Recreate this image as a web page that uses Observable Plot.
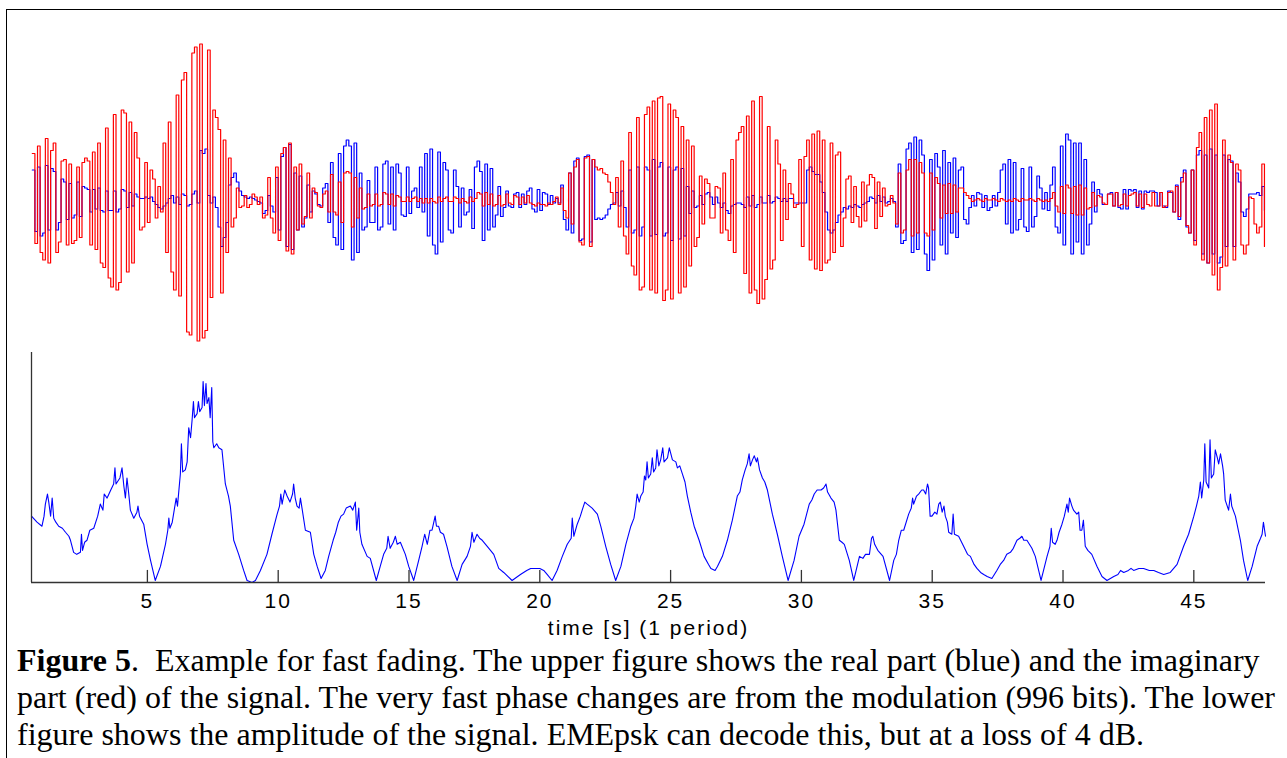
<!DOCTYPE html>
<html>
<head>
<meta charset="utf-8">
<script src="https://cdn.jsdelivr.net/npm/d3@7"></script>
<script src="https://cdn.jsdelivr.net/npm/@observablehq/plot@0.6"></script>
<style>
  body { margin: 0; background: #fff; }
  #wrap { position: relative; width: 1287px; height: 758px; overflow: hidden; background: #fff; }
  #upper, #lower { position: absolute; left: 0; }
  #upper { top: 0; }
  #lower { top: 340px; }
  .fr { position: absolute; background: #000; }
  .capline {
    position: absolute; left: 17px; height: 37px; line-height: 37px;
    font-family: "Liberation Serif", "Times New Roman", Times, serif;
    font-size: 25px; color: #000; white-space: pre;
  }
</style>
</head>
<body>
<div id="wrap">
  <div id="upper"></div>
  <div id="lower"></div>
  <div id="caption"></div>
  <div class="fr" style="left:6px;top:9px;width:1281px;height:1px"></div>
  <div class="fr" style="left:6px;top:9px;width:1px;height:749px"></div>
</div>
<script>
// ---------- data (upper panel: sampled signal, hundredths of amplitude unit) ----------
const sampleStart = 0.6;   // s
const sampleStep = 0.1;    // s
// real part (blue), one row per second
const realPart = [
  20,-21,22,-24,-22,23,-20,21,19,-20,
  -15,14,12,-13,11,-12,-10,12,-11,9,
  8,7,-8,7,-6,8,-7,-8,6,-7,
  -7,6,-8,-6,7,6,-5,5,-4,4,
  2,1,1,2,1,2,-1,-3,-5,-6,
  -4,-2,1,3,-2,2,-3,4,3,-4,
  -3,4,6,-2,33,31,34,3,-2,2,
  -5,-18,-31,-25,-15,10,15,18,12,6,
  3,2,1,2,1,0,-1,-2,-9,-7,
  3,-4,-8,15,-20,29,35,-31,37,-33,
  18,-20,16,-18,-12,10,-8,6,4,-3,
  -4,8,11,-15,25,-25,-30,31,-33,36,
  40,36,-40,38,-35,18,-20,-18,13,-15,
  -15,22,-20,-18,24,26,-16,22,-20,24,
  18,-10,-11,22,-9,6,8,-5,22,-8,
  31,-24,34,-30,-36,32,-28,25,20,-20,
  -22,20,9,-18,8,-10,-8,7,-19,22,
  26,19,-27,24,-20,21,-18,-10,9,-11,
  -5,6,-4,-5,4,5,-5,4,-3,6,
  8,-6,-8,7,-7,5,4,-3,3,-2,
  1,-2,10,-13,-20,18,-22,26,28,-27,
  -26,29,30,-28,27,-13,-12,-13,-12,-10,
  -6,-3,-2,5,-4,6,-5,-18,20,-22,
  -20,22,-24,-18,22,20,-24,27,-23,22,
  25,-24,-22,22,-27,20,22,-26,21,-24,
  9,-9,6,-5,-4,3,-3,4,5,2,
  -3,2,-2,-5,-2,-7,-9,-4,-3,-2,
  -2,-3,-5,2,-4,3,-5,-3,2,-2,
  -2,3,-2,-1,2,1,-1,1,-1,1,
  1,-2,-2,-2,-2,-2,20,22,19,17,
  17,12,5,-8,-20,-22,-20,-15,-10,-8,
  -5,-6,-4,-5,-3,-4,-5,-3,-2,-1,
  2,1,-2,3,-1,2,-2,-1,1,-1,
  -18,24,-29,-27,34,38,-35,42,-33,40,
  30,-36,-47,27,-40,31,22,-30,33,-36,
  25,-22,28,-25,20,22,-13,-16,-5,3,
  -4,5,4,-5,3,-7,-5,3,-4,5,
  20,24,-16,27,-22,25,-20,-13,21,-18,
  -21,22,-18,-11,16,8,-6,5,-7,10,
  22,-18,-22,36,-30,44,40,-36,38,-28,
  38,-36,27,-30,-16,12,-8,7,4,-3,
  -3,4,5,-4,5,-5,-6,7,-6,7,
  6,7,-5,6,-6,6,5,6,6,5,
  -4,5,-4,-5,6,5,-8,10,-13,15,
  20,-18,-22,20,-27,30,33,-36,30,-42,
  34,-36,30,-42,-38,30,-31,27,26,-31,
  18,12,-8,-11,-6,4,4,4,5,3,
  9,-7
];
// imaginary part (red), one row per second
const imagPart = [
  31,-29,36,-35,-40,41,-42,33,38,-35,
  -28,26,27,-30,24,-29,-27,22,-25,25,
  28,26,-30,32,-33,38,-42,-45,48,-52,
  -58,57,-60,-55,60,58,-48,52,-42,45,
  28,-20,-18,25,-15,20,14,-12,9,-8,
  38,-35,52,-48,-60,70,-64,80,85,-88,
  -90,98,102,-94,104,-92,-87,100,-65,60,
  55,47,-62,40,-35,28,-18,-12,8,-5,
  -4,3,-5,-3,4,2,-3,2,-12,-10,
  15,-12,-22,22,-27,31,35,-34,38,-36,
  22,-20,24,-16,-11,18,-12,8,5,-4,
  -5,4,6,-8,17,-8,-10,12,-15,18,
  19,18,-18,15,-12,8,-6,-5,4,-4,
  -3,4,-4,-3,5,4,-3,4,-4,3,
  2,-1,-1,2,-1,1,2,-1,1,-2,
  1,-2,1,-1,-2,2,-1,1,2,-1,
  -1,2,1,-2,1,-1,-2,2,-1,1,
  5,4,-4,5,-3,4,-4,-3,3,-4,
  -3,4,-2,-3,3,2,-3,2,-2,3,
  -2,-3,-4,-2,-3,-3,-4,-2,-3,-1,
  2,-3,8,-7,-12,18,-16,22,27,-28,
  -30,28,29,-31,27,22,20,21,18,17,
  12,5,-3,15,-18,26,-24,-36,45,-44,
  -50,55,-60,-58,57,62,-60,66,-62,68,
  69,-67,-60,64,-66,60,55,-62,49,-58,
  40,-44,36,-31,-25,16,-16,14,11,-12,
  -12,9,8,-22,18,-20,-27,27,-35,40,
  45,49,-49,56,-62,66,-60,-69,69,-66,
  -53,49,-46,-40,40,24,-27,20,-13,11,
  4,-5,-3,27,-31,29,40,-40,44,-46,
  46,-47,40,-42,-40,38,-35,30,32,-31,
  -12,14,16,-15,9,-11,-18,12,-14,10,
  17,15,-19,12,-11,8,-4,-3,3,-2,
  -16,18,-22,-20,20,27,-24,27,-22,25,
  18,-22,-24,18,-20,15,11,-12,10,-9,
  11,-9,10,-8,8,8,5,3,1,-1,
  0,1,0,-1,1,0,0,1,0,-1,
  1,0,-1,0,-1,1,0,-1,1,0,
  0,1,0,-1,1,0,-1,0,-1,1,
  5,-4,-8,9,-9,10,8,-9,9,-10,
  10,-10,8,-6,-5,5,-4,3,2,-2,
  -3,4,4,-4,5,-4,-3,4,-4,3,
  4,5,-4,4,-5,4,-3,-4,5,-4,
  -4,5,-5,-4,5,6,-8,9,-11,12,
  18,-17,-22,20,-30,35,45,-40,55,-42,
  60,-50,64,-60,-45,40,-44,30,25,-40,
  24,20,-30,-36,-30,2,1,-16,-22,-18,
  24,-31
];

// ---------- data (lower panel: amplitude, hundredths) ----------
const ampTime = [
  0.57,0.78,0.97,1.05,1.1,1.18,1.23,1.3,1.36,1.42,1.5,1.61,1.75,1.87,2.0,2.06,2.18,2.3,2.44,2.48,2.52,2.6,2.69,2.8,2.95,
  3.1,3.2,3.3,3.35,3.46,3.6,3.71,3.76,3.8,3.95,4.03,4.1,4.16,4.22,4.28,4.35,4.48,4.6,4.64,4.7,4.86,4.99,5.12,5.3,5.5,
  5.69,5.78,5.82,5.86,5.95,6.0,6.1,6.15,6.26,6.3,6.35,6.45,6.52,6.58,6.65,6.71,6.76,6.8,6.9,6.95,7.0,7.09,7.13,7.18,7.24,
  7.28,7.35,7.4,7.46,7.5,7.54,7.65,7.73,7.85,7.98,8.1,8.17,8.3,8.49,8.68,8.81,9.0,9.13,9.32,9.57,9.76,9.9,9.96,10.05,10.1,
  10.15,10.25,10.34,10.45,10.55,10.59,10.65,10.72,10.8,10.85,10.91,11.04,11.23,11.36,11.49,11.64,11.8,11.93,12.1,12.2,12.3,12.4,12.5,12.6,12.76,
  12.85,12.95,13.0,13.08,13.12,13.2,13.4,13.52,13.75,13.9,14.03,14.15,14.2,14.28,14.4,14.48,14.55,14.67,14.86,14.99,15.18,15.37,15.5,15.6,15.7,
  15.8,15.88,16.0,16.05,16.13,16.2,16.32,16.45,16.64,16.84,17.03,17.22,17.35,17.41,17.48,17.6,17.7,17.8,17.99,18.24,18.43,18.62,18.94,19.26,19.5,
  19.65,19.83,20.0,20.15,20.28,20.47,20.66,20.86,21.05,21.2,21.24,21.3,21.43,21.55,21.62,21.72,21.81,22.0,22.2,22.33,22.52,22.71,22.9,23.1,23.29,
  23.48,23.6,23.67,23.72,23.8,23.86,23.95,24.0,24.05,24.1,24.15,24.24,24.3,24.35,24.43,24.48,24.55,24.62,24.7,24.75,24.88,24.95,25.07,25.2,25.26,
  25.35,25.45,25.55,25.64,25.77,25.9,26.09,26.28,26.45,26.54,26.7,26.79,26.98,27.17,27.36,27.55,27.65,27.74,27.85,27.93,28.0,28.05,28.13,28.2,28.28,
  28.32,28.4,28.51,28.6,28.7,28.89,29.08,29.27,29.49,29.72,29.91,30.1,30.2,30.3,30.4,30.49,30.6,30.75,30.85,30.94,31.0,31.13,31.25,31.32,31.45,
  31.55,31.64,31.83,32.0,32.22,32.35,32.45,32.6,32.68,32.73,32.8,32.92,33.12,33.37,33.53,33.63,33.72,33.82,33.91,34.1,34.2,34.25,34.29,34.4,34.48,
  34.6,34.67,34.75,34.82,34.86,34.92,34.99,35.1,35.18,35.25,35.31,35.38,35.45,35.5,35.58,35.63,35.75,35.8,35.85,36.01,36.2,36.35,36.46,36.6,36.71,
  36.85,36.97,37.1,37.28,37.47,37.6,37.73,37.85,37.99,38.1,38.24,38.35,38.43,38.5,38.62,38.81,38.94,39.05,39.16,39.39,39.5,39.55,39.6,39.7,39.77,
  39.85,39.96,40.05,40.15,40.2,40.25,40.34,40.4,40.53,40.6,40.65,40.72,40.78,40.85,40.95,41.1,41.3,41.49,41.68,41.94,42.1,42.2,42.32,42.5,42.6,
  42.7,42.9,43.08,43.3,43.47,43.65,43.85,44.1,44.36,44.61,44.8,45.0,45.1,45.19,45.25,45.3,45.38,45.42,45.47,45.57,45.62,45.67,45.76,45.82,45.9,
  45.95,46.02,46.1,46.14,46.2,46.33,46.4,46.45,46.59,46.78,46.9,47.06,47.23,47.42,47.55,47.61,47.66,47.74
];
const ampValue = [
  33,30,28,33,39,44,40,33,42,32,30,28,27,25,23,21,15,14,15,24,16,20,21,26,27,
  33,39,36,44,42,46,49,57,49,52,57,48,42,52,45,36,32,35,38,33,29,19,11,1,8,
  19,26,32,27,30,34,42,38,54,69,55,56,60,77,72,81,90,82,84,90,85,87,100,88,99,
  89,92,82,97,70,67,69,67,66,49,43,38,21,14,6,1,0,1,6,14,24,31,34,38,44,
  39,46,43,40,44,49,42,38,37,42,37,26,25,14,8,2,6,13,21,25,30,33,34,37,38,
  36,40,26,37,25,19,13,12,1,8,14,17,23,17,20,23,19,20,14,8,1,11,18,24,19,
  26,26,33,28,28,25,24,18,8,1,9,13,18,25,20,24,22,21,18,14,7,5,1,4,6,
  7,7,7,6,4,1,6,13,19,22,32,23,29,33,36,40,39,37,34,28,18,9,1,8,19,
  28,32,38,44,40,43,45,53,51,60,52,54,62,55,57,66,58,61,67,60,62,67,61,60,57,
  58,54,50,43,35,28,21,13,9,7,6,8,13,21,31,43,45,51,56,59,64,58,61,63,60,
  62,56,52,50,46,34,24,13,1,11,23,29,34,39,41,44,46,46,47,49,45,42,40,36,21,
  20,19,11,1,13,12,14,14,22,23,19,16,13,1,11,14,21,26,26,34,37,42,39,43,44,
  46,46,44,49,47,33,33,35,34,39,40,35,38,33,30,25,24,34,24,23,18,14,13,9,7,
  5,4,3,2,6,9,11,14,15,17,21,22,23,21,21,17,13,7,1,13,18,27,20,19,21,
  25,29,33,39,35,42,38,36,34,35,26,26,31,18,16,14,8,3,1,3,4,6,5,6,7,
  6,7,7,6,6,5,4,5,9,18,24,33,38,43,50,42,51,69,50,47,71,52,54,66,62,
  59,64,58,54,41,36,44,38,33,21,11,1,8,18,22,24,30,23
];
const xTicks = [5, 10, 15, 20, 25, 30, 35, 40, 45];
const xLabel = "time [s] (1 period)";
const captionBold = "Figure 5";
const captionLines = [
  ".  Example for fast fading. The upper figure shows the real part (blue) and the imaginary",
  "part (red) of the signal. The very fast phase changes are from the modulation (996 bits). The lower",
  "figure shows the amplitude of the signal. EMEpsk can decode this, but at a loss of 4 dB."
];

// ---------- build tables ----------
const signalRows = realPart.map((v, i) => ({
  t: +(sampleStart + i * sampleStep).toFixed(2), re: v, im: imagPart[i]
}));
const ampRows = ampTime.map((t, i) => ({t, a: ampValue[i]}));
const xDomain = [0.57, 47.74];
const fontSans = "Liberation Sans, Arial, Helvetica, sans-serif";

// ---------- upper panel ----------
const upperPlot = Plot.plot({
  width: 1287, height: 360,
  marginLeft: 31, marginRight: 22, marginTop: 0, marginBottom: 0,
  style: {background: "transparent", overflow: "visible"},
  x: {domain: xDomain, axis: null},
  y: {domain: [-107, 133], axis: null},
  marks: [
    Plot.line(signalRows, {x: "t", y: "re", stroke: "#0000ff", strokeWidth: 1.2, curve: "step-after"}),
    Plot.line(signalRows, {x: "t", y: "im", stroke: "#ff0000", strokeWidth: 1.2, curve: "step-after"})
  ]
});
document.getElementById("upper").appendChild(upperPlot);

// ---------- lower panel ----------
const lowerPlot = Plot.plot({
  width: 1287, height: 302,
  marginLeft: 31, marginRight: 22, marginTop: 12, marginBottom: 60,
  style: {background: "transparent", overflow: "visible", fontFamily: fontSans, fontSize: "21px", color: "#000"},
  x: {domain: xDomain},
  y: {domain: [0, 114.4], axis: null},
  marks: [
    Plot.line(ampRows, {x: "t", y: "a", stroke: "#0000ff", strokeWidth: 1.1}),
    Plot.ruleY([0], {stroke: "#333", strokeWidth: 1.3}),
    Plot.ruleX([xDomain[0]], {y1: 0, y2: 114.4, stroke: "#333", strokeWidth: 1.3}),
    Plot.ruleX(xTicks, {y1: 0, y2: 6, stroke: "#333", strokeWidth: 1.3}),
    Plot.axisX(xTicks, {
      tickSize: 0, tickPadding: 11, fontSize: 21,
      label: xLabel, labelAnchor: "center", labelOffset: 52, labelArrow: "none"
    })
  ]
});
lowerPlot.querySelectorAll("text").forEach(t => { t.setAttribute("letter-spacing", "2"); t.setAttribute("fill", "#000"); });
document.getElementById("lower").appendChild(lowerPlot);

// ---------- caption (HTML; font size fitted to the reference line widths) ----------
const capBaselines = [671, 708, 745], capWidths = [1240, 1258, 1127];
const capBox = document.getElementById("caption");
const capDivs = captionLines.map((s, i) => {
  const div = document.createElement("div");
  div.className = "capline";
  div.style.display = "inline-block";
  div.style.top = "0px";
  if (i === 0) {
    const b = document.createElement("b");
    b.textContent = captionBold;
    div.appendChild(b);
  }
  div.appendChild(document.createTextNode(s));
  capBox.appendChild(div);
  return div;
});
const ratios = capDivs.map((d, i) => capWidths[i] / d.getBoundingClientRect().width);
const capSize = 25 * d3.mean(ratios);
capDivs.forEach((d, i) => {
  d.style.fontSize = capSize.toFixed(2) + "px";
  d.style.display = "block";
  d.style.width = capWidths[i] + "px";
  d.style.textAlign = "justify";
  d.style.textAlignLast = "justify";
  d.style.top = (capBaselines[i] - (18.5 + 0.3375 * capSize)).toFixed(1) + "px";
});
</script>
</body>
</html>
